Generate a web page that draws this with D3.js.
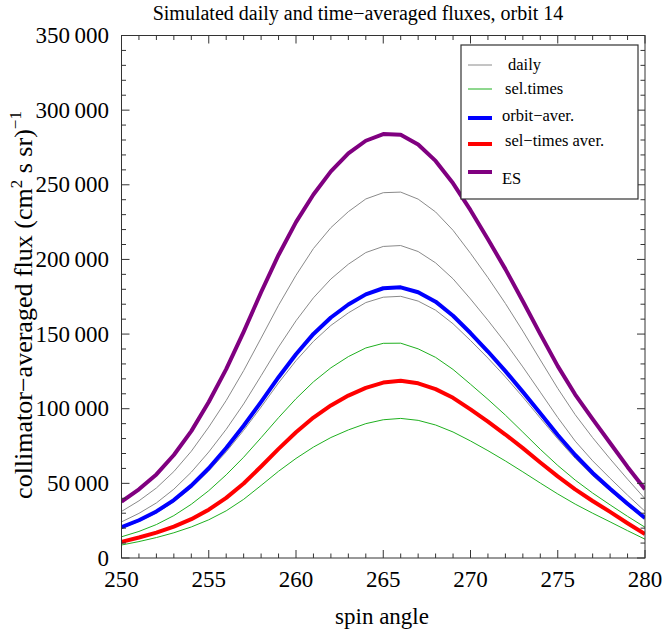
<!DOCTYPE html>
<html>
<head>
<meta charset="utf-8">
<script src="https://cdn.jsdelivr.net/npm/d3@7"></script>
<style>
  body { margin: 0; background: #fff; }
  svg text { font-family: "Liberation Serif", "DejaVu Serif", serif; fill: #000; }
</style>
</head>
<body>
<svg id="chart" width="663" height="632"></svg>
<script>
//
// D A T A
//
var angles = [250, 251, 252, 253, 254, 255, 256, 257, 258, 259, 260, 261, 262, 263, 264, 265,
              266, 267, 268, 269, 270, 271, 272, 273, 274, 275, 276, 277, 278, 279, 280];

var daily1 = [31200, 38300, 46900, 57900, 71500, 87700, 105500, 125500, 147300, 169300, 189400, 207300, 221300, 232000, 240500, 244700,
              245100, 240400, 231800, 219500, 204100, 187800, 170500, 152000, 132700, 113600, 96000, 80600, 66400, 52800, 39700];
var daily2 = [24200, 29900, 36900, 46100, 57500, 71000, 86200, 103200, 122100, 141300, 158900, 174300, 186900, 196800, 204600, 208700,
              209300, 205300, 197700, 187000, 173500, 159200, 144200, 128000, 111100, 94100, 78300, 65100, 53400, 42100, 31300];
var daily3 = [19900, 24500, 30200, 37600, 47000, 58300, 71100, 85500, 101100, 117300, 132200, 145100, 155800, 164200, 171100, 174700,
              175300, 172100, 166000, 156900, 145700, 133900, 121300, 107800, 93700, 79800, 66800, 55100, 45000, 35200, 25900];
var selTimes1 = [14200, 17800, 22400, 28400, 36000, 45100, 55700, 67500, 80600, 94000, 106700, 118000, 127400, 134900, 140700, 143800,
                 143900, 140100, 134400, 126300, 116400, 106300, 95700, 84300, 72800, 62000, 52200, 43500, 35600, 27900, 20600];
var selTimes2 = [8700, 11000, 13700, 16900, 20800, 25600, 31600, 39300, 48600, 58100, 66700, 74300, 80700, 85800, 90000, 92600,
                 93500, 92200, 89100, 84400, 78400, 71900, 65000, 57700, 50200, 42900, 36100, 30000, 24200, 18300, 12600];
var orbitAver = [20600, 25300, 31200, 38800, 48500, 60100, 73700, 88600, 104600, 121100, 136500, 150100, 161100, 169800, 176600, 180700,
                 181300, 178000, 171700, 162300, 150700, 138300, 125200, 111300, 96900, 82400, 69000, 57000, 46400, 36400, 26800];
var selTimesAver = [10800, 13700, 17000, 21000, 26000, 32400, 40300, 49900, 61300, 73100, 84200, 94100, 102200, 108800, 114000, 117500,
                    118700, 117000, 113100, 107300, 99500, 91300, 82700, 73600, 64000, 54700, 46000, 38200, 30900, 23300, 16000];
var esFlux = [37700, 46000, 56000, 69000, 85000, 104500, 126500, 151500, 178000, 203000, 225000, 243500, 259000, 271000, 279500, 284000,
              283500, 277000, 266000, 251000, 233000, 213500, 193500, 172000, 150000, 128500, 109500, 93000, 77000, 61000, 46000];

var xTicks = [250, 255, 260, 265, 270, 275, 280];
var yTicks = [0, 50000, 100000, 150000, 200000, 250000, 300000, 350000];
var yTickLabels = ["0", "50\u2009000", "100\u2009000", "150\u2009000", "200\u2009000", "250\u2009000", "300\u2009000", "350\u2009000"];

var legendNames = ["daily", "sel.times", "orbit\u2212aver.", "sel\u2212times aver.", "ES"];

//
// L A Y O U T
//
var svg = d3.select('#chart');
var plotLeft = 121.5, plotRight = 645, plotTop = 35.5, plotBottom = 558;

var x = d3.scaleLinear().domain([250, 280]).range([plotLeft, plotRight]);
var y = d3.scaleLinear().domain([0, 350000]).range([plotBottom, plotTop]);

// the curves, thin ones first so the averages sit on top
var series = [
  { values: daily1, color: '#8a8a8a', width: 1 },
  { values: daily2, color: '#8a8a8a', width: 1 },
  { values: daily3, color: '#8a8a8a', width: 1 },
  { values: selTimes1, color: '#1fb01f', width: 1 },
  { values: selTimes2, color: '#1fb01f', width: 1 },
  { values: orbitAver, color: '#0000ff', width: 4 },
  { values: selTimesAver, color: '#ff0000', width: 4 },
  { values: esFlux, color: '#800080', width: 4 }
];

var line = d3.line()
  .x(function(d){ return x(d[0]); })
  .y(function(d){ return y(d[1]); });

svg.append('clipPath').attr('id', 'plotclip')
  .append('rect')
    .attr('x', plotLeft).attr('y', plotTop)
    .attr('width', plotRight - plotLeft).attr('height', plotBottom - plotTop);

svg.append('g').attr('clip-path', 'url(#plotclip)')
  .selectAll('path')
  .data(series)
  .enter().append('path')
    .attr('d', function(s){ return line(angles.map(function(a, i){ return [a, s.values[i]]; })); })
    .attr('fill', 'none')
    .attr('stroke', function(s){ return s.color; })
    .attr('stroke-width', function(s){ return s.width; })
    .attr('stroke-linejoin', 'round');

//
// F R A M E   A N D   T I C K S
//
var frame = svg.append('g').attr('stroke', '#333').attr('stroke-width', 1);

frame.append('rect')
  .attr('x', plotLeft).attr('y', plotTop)
  .attr('width', plotRight - plotLeft).attr('height', plotBottom - plotTop)
  .attr('fill', 'none');

// ticks point inward on every side
var xMinor = x.ticks(30), yMinor = y.ticks(35);

xMinor.forEach(function(v){
  var len = (v % 5 === 0) ? 8 : 4.5;
  frame.append('line').attr('x1', x(v)).attr('x2', x(v)).attr('y1', plotBottom).attr('y2', plotBottom - len);
  frame.append('line').attr('x1', x(v)).attr('x2', x(v)).attr('y1', plotTop).attr('y2', plotTop + len);
});
yMinor.forEach(function(v){
  var len = (v % 50000 === 0) ? 8 : 4.5;
  frame.append('line').attr('y1', y(v)).attr('y2', y(v)).attr('x1', plotLeft).attr('x2', plotLeft + len);
  frame.append('line').attr('y1', y(v)).attr('y2', y(v)).attr('x1', plotRight).attr('x2', plotRight - len);
});

svg.append('g').selectAll('text')
  .data(xTicks)
  .enter().append('text')
    .attr('x', function(d){ return x(d); })
    .attr('y', 587)
    .attr('text-anchor', 'middle')
    .style('font-size', '23px')
    .text(function(d){ return d; });

svg.append('g').selectAll('text')
  .data(yTicks)
  .enter().append('text')
    .attr('x', 109)
    .attr('y', function(d){ return y(d) + 7.5; })
    .attr('text-anchor', 'end')
    .style('font-size', '23px')
    .text(function(d, i){ return yTickLabels[i]; });

//
// T I T L E S
//
svg.append('text')
  .attr('x', 358).attr('y', 20)
  .attr('text-anchor', 'middle')
  .style('font-size', '20px')
  .text('Simulated daily and time\u2212averaged fluxes, orbit 14');

svg.append('text')
  .attr('x', 382).attr('y', 624)
  .attr('text-anchor', 'middle')
  .style('font-size', '23px')
  .text('spin angle');

var ylab = svg.append('text')
  .attr('transform', 'translate(32,305) rotate(-90)')
  .attr('text-anchor', 'middle')
  .style('font-size', '26px');
ylab.append('tspan').text('collimator\u2212averaged flux (cm');
ylab.append('tspan').attr('dy', -10).style('font-size', '17px').text('2');
ylab.append('tspan').attr('dy', 10).text(' s sr)');
ylab.append('tspan').attr('dy', -11).style('font-size', '17px').text('\u22121');

//
// L E G E N D
//
var legend = svg.append('g');
legend.append('rect')
  .attr('x', 461).attr('y', 45)
  .attr('width', 177).attr('height', 154)
  .attr('fill', '#fff').attr('stroke', '#333').attr('stroke-width', 1.2);

var legendRows = [
  { color: '#8a8a8a', width: 1, ly: 65, tx: 508, ty: 70 },
  { color: '#1fb01f', width: 1, ly: 89, tx: 505, ty: 94 },
  { color: '#0000ff', width: 4, ly: 118, tx: 502, ty: 121 },
  { color: '#ff0000', width: 4, ly: 144, tx: 505, ty: 146 },
  { color: '#800080', width: 4, ly: 172, tx: 502, ty: 184 }
];

legendRows.forEach(function(r, i){
  legend.append('line')
    .attr('x1', 468).attr('x2', 492)
    .attr('y1', r.ly).attr('y2', r.ly)
    .attr('stroke', r.color).attr('stroke-width', r.width);
  legend.append('text')
    .attr('x', r.tx).attr('y', r.ty)
    .style('font-size', '16.5px')
    .text(legendNames[i]);
});
</script>
</body>
</html>
